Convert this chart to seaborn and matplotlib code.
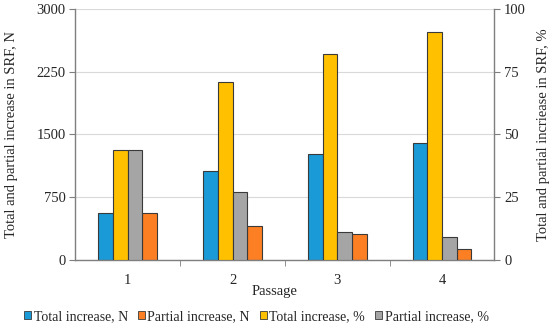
import matplotlib
matplotlib.use("Agg")
import matplotlib.pyplot as plt
import matplotlib.patches as mpatches
import numpy as np
import pandas as pd
import seaborn as sns

# Data
passages = ["1", "2", "3", "4"]
total_n = [558, 1060, 1267, 1395]
partial_n = [558, 406, 311, 131]
total_pct = [43.8, 70.9, 82.0, 90.7]
partial_pct = [43.8, 27.0, 11.0, 9.0]

S_TN = "Total increase, N"
S_PN = "Partial increase, N"
S_TP = "Total increase, %"
S_PP = "Partial increase, %"

BAR_ORDER = [S_TN, S_TP, S_PP, S_PN]
LEGEND_ORDER = [S_TN, S_PN, S_TP, S_PP]
COLORS = {
    S_TN: "#1a9ad6",
    S_PN: "#fd7f23",
    S_TP: "#ffc000",
    S_PP: "#a5a5a5",
}
EDGE = "#3a3a3a"
SPINE = "#7f7f7f"
FS = 10.5

df_n = pd.DataFrame({
    "passage": passages * 2,
    "series": [S_TN] * 4 + [S_PN] * 4,
    "value": total_n + partial_n,
})
df_pct = pd.DataFrame({
    "passage": passages * 2,
    "series": [S_TP] * 4 + [S_PP] * 4,
    "value": total_pct + partial_pct,
})

sns.set_style("white")
plt.rcParams["font.family"] = ["Liberation Serif", "DejaVu Serif"]

fig = plt.figure(figsize=(5.5, 3.24), dpi=100)
ax = fig.add_axes([0.137, 0.198, 0.762, 0.774])
ax2 = ax.twinx()

bar_kws = dict(x="passage", y="value", hue="series", hue_order=BAR_ORDER,
               order=passages, palette=COLORS, width=0.56, gap=0,
               saturation=1, edgecolor=EDGE, linewidth=0.8, legend=False,
               errorbar=None)
sns.barplot(data=df_n, ax=ax, **bar_kws)
sns.barplot(data=df_pct, ax=ax2, **bar_kws)

ax.set_xlim(-0.5, 3.5)
ax.set_ylim(0, 3000)
ax2.set_ylim(0, 100)
ax.set_yticks([0, 750, 1500, 2250, 3000])
ax2.set_yticks([0, 25, 50, 75, 100])

ax.yaxis.grid(True, color="#d9d9d9", linewidth=0.8)
ax.set_axisbelow(True)
ax2.grid(False)

for a in (ax, ax2):
    for s in a.spines.values():
        s.set_color(SPINE)
        s.set_linewidth(1.0)
    a.spines["top"].set_visible(False)
ax.spines["right"].set_visible(False)
ax2.spines["left"].set_visible(False)
ax2.spines["bottom"].set_visible(False)

ax.tick_params(axis="y", which="both", left=True, length=4, color=SPINE,
               labelsize=FS, pad=3)
ax2.tick_params(axis="y", right=True, length=4, color=SPINE,
                labelsize=FS, pad=3)
ax.tick_params(axis="x", which="major", length=0, labelsize=FS, pad=10)
ax.set_xticks([0.5, 1.5, 2.5], minor=True)
ax.tick_params(axis="x", which="minor", bottom=True, length=4, color=SPINE)

ax.set_xlabel("Passage", fontsize=FS)
ax.xaxis.set_label_coords(0.475, -0.1)
ax.set_ylabel("Total and partial increase in SRF, N", fontsize=FS, labelpad=13)
ax2.set_ylabel("Total and partial incriease in SRF, %", fontsize=FS, labelpad=8)

handles = [mpatches.Patch(facecolor=COLORS[s], edgecolor=EDGE, linewidth=0.6)
           for s in LEGEND_ORDER]
fig.legend(handles, LEGEND_ORDER, loc="lower center",
           bbox_to_anchor=(0.466, -0.035), ncol=4, frameon=False,
           fontsize=10, handlelength=0.5, handleheight=0.5,
           handletextpad=0.2, columnspacing=0.7)

fig.savefig("out.png", dpi=100)
